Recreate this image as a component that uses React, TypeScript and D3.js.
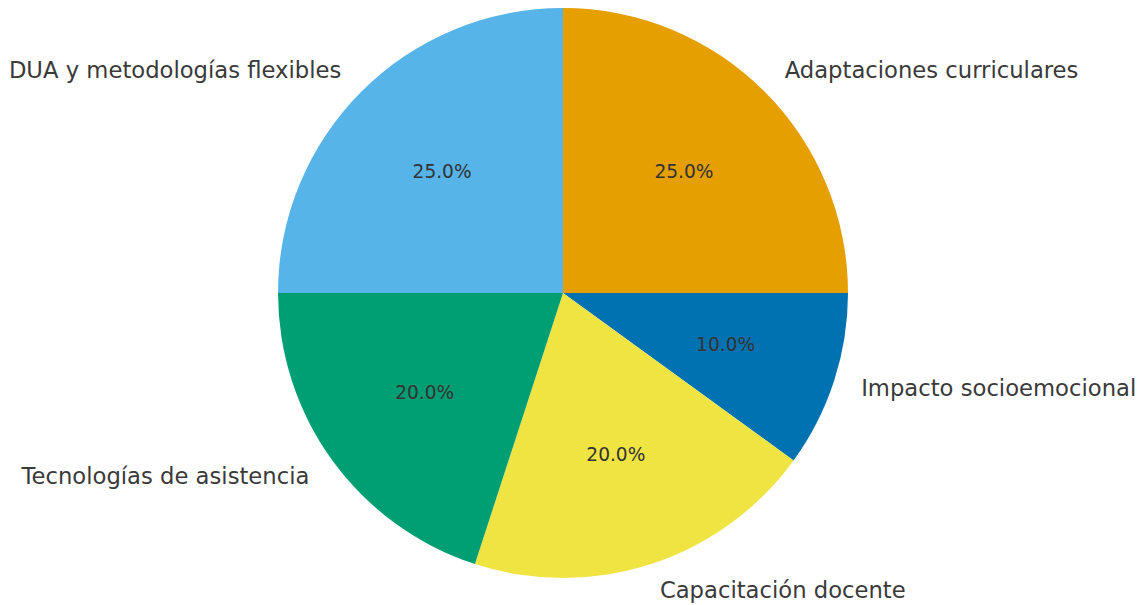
import React from "react";
import * as d3 from "d3";

const categories = [
  "Adaptaciones curriculares",
  "Impacto socioemocional",
  "Capacitación docente",
  "Tecnologías de asistencia",
  "DUA y metodologías flexibles",
];
const values = [25, 10, 20, 20, 25];
const colors = ["#E69F00", "#0072B2", "#F0E442", "#009E73", "#56B4E9"];

const W = 1146;
const H = 605;
const cx = 563;
const cy = 293;
const R = 285;

export default function App() {
  const pie = d3
    .pie<number>()
    .sort(null)
    .startAngle(0)
    .endAngle(2 * Math.PI)(values);
  const arc = d3.arc<d3.PieArcDatum<number>>().innerRadius(0).outerRadius(R);
  const total = d3.sum(values);

  return (
    <svg
      width={W}
      height={H}
      style={{ position: "absolute", left: 0, top: 0 }}
      fontFamily="DejaVu Sans"
    >
      <rect width={W} height={H} fill="#fff" />
      <g transform={`translate(${cx},${cy})`}>
        {pie.map((d, i) => {
          const mid = (d.startAngle + d.endAngle) / 2;
          const lx = Math.sin(mid) * R * 1.1;
          const ly = -Math.cos(mid) * R * 1.1;
          const px = Math.sin(mid) * R * 0.6;
          const py = -Math.cos(mid) * R * 0.6;
          return (
            <g key={categories[i]}>
              <path d={arc(d) ?? ""} fill={colors[i]} />
              <text
                x={px}
                y={py - 1}
                textAnchor="middle"
                dominantBaseline="central"
                fontSize={18.6}
                fill="#333"
              >
                {((values[i] / total) * 100).toFixed(1)}%
              </text>
              <text
                x={lx}
                y={ly - 1.5}
                textAnchor={lx > 0 ? "start" : "end"}
                dominantBaseline="central"
                fontSize={22.7}
                fill="#3a3a3a"
              >
                {categories[i]}
              </text>
            </g>
          );
        })}
      </g>
    </svg>
  );
}
